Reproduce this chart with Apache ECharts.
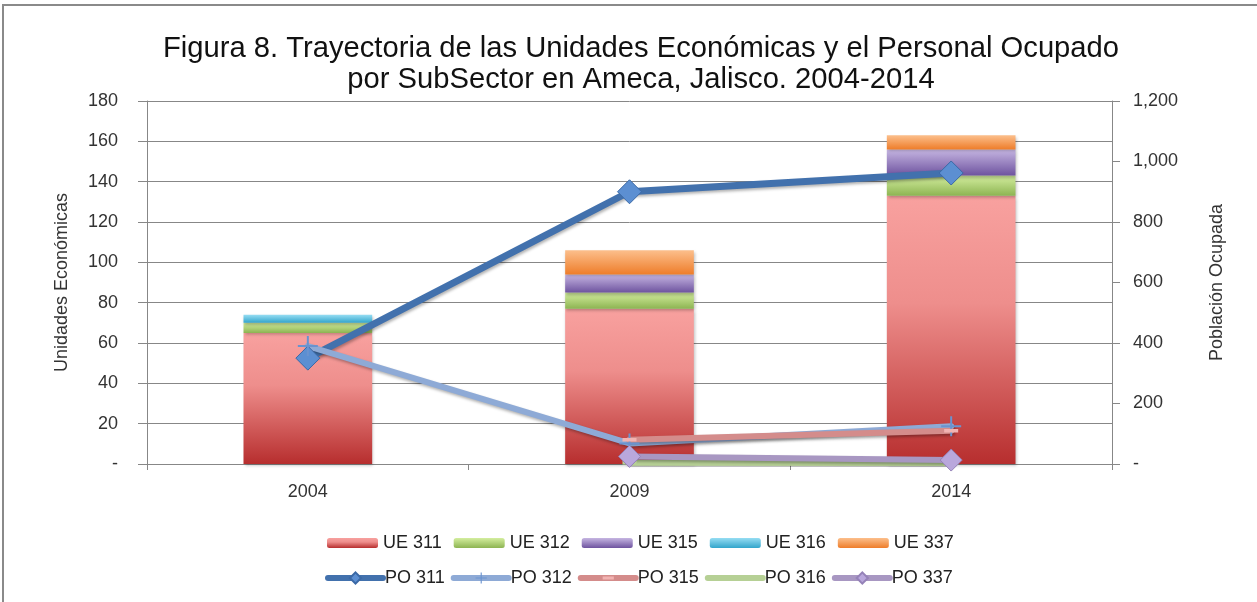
<!DOCTYPE html>
<html>
<head>
<meta charset="utf-8">
<script src="https://cdn.jsdelivr.net/npm/echarts@6/dist/echarts.min.js"></script>
<style>
html,body{margin:0;padding:0;background:#fff;}
#c{width:1257px;height:602px;}
</style>
</head>
<body>
<div id="c"></div>
<script>
var years = ['2004', '2009', '2014'];
var ue311 = [65, 77, 133];
var ue312 = [5, 8, 10];
var ue315 = [0, 9, 13];
var ue316 = [4, 0, 0];
var ue337 = [0, 12, 7];
var po311 = [350, 900, 962];
var po312 = [390, 68, 125];
var po315 = [null, 80, 110];
var po316 = [null, 4, 3];
var po337 = [null, 25, 13];
var leftTicks = {min: 0, max: 180, interval: 20};
var rightTicks = {min: 0, max: 1200, interval: 200};

var chart = echarts.init(document.getElementById('c'));
var G = echarts.graphic.LinearGradient;
function grad(a, b, c) {
  var stops = c ? [{offset:0,color:a},{offset:0.4,color:b},{offset:1,color:c}] : [{offset:0,color:a},{offset:1,color:b}];
  return new G(0, 0, 0, 1, stops);
}
var FONT = 'Liberation Sans, Arial, sans-serif';
var barShadow = {shadowBlur: 3, shadowOffsetX: 1, shadowOffsetY: 2, shadowColor: 'rgba(0,0,0,0.25)'};
function bar(name, data, color) {
  return {name: name, type: 'bar', stack: 'ue', data: data, barWidth: '40%',
    itemStyle: Object.assign({color: color}, barShadow)};
}
var crossPath = 'path://M9,0 H11 V9 H20 V11 H11 V20 H9 V11 H0 V9 H9 Z';
var dashPath = 'path://M0,0 L0.05,0 L0,0.05 Z M0,7.5 H20 V12.5 H0 Z M20,20 L19.95,20 L20,19.95 Z';
var lineShadow = {shadowBlur: 3, shadowOffsetX: 1, shadowOffsetY: 2, shadowColor: 'rgba(0,0,0,0.3)'};
function line(name, data, color, width, symbol, size, symColor, border) {
  return {name: name, type: 'line', yAxisIndex: 1, data: data, connectNulls: false,
    symbol: symbol, symbolSize: size, showAllSymbol: true,
    lineStyle: Object.assign({color: color, width: width, cap: 'round'}, lineShadow),
    itemStyle: {color: symColor, borderColor: border || symColor, borderWidth: border ? 1 : 0},
    emphasis: {disabled: true}, z: 3};
}

chart.setOption({
  animation: false,
  backgroundColor: '#ffffff',
  textStyle: {fontFamily: FONT},
  title: {
    text: 'Figura 8. Trayectoria de las Unidades Económicas y el Personal Ocupado\npor SubSector en Ameca, Jalisco. 2004-2014',
    left: 636, top: 28, textAlign: 'center',
    textStyle: {fontFamily: FONT, fontSize: 29.2, fontWeight: 'normal', color: '#111', lineHeight: 31}
  },
  graphic: [{type: 'rect', shape: {x: 3, y: 5, width: 1270, height: 620},
    style: {fill: 'none', stroke: '#8a8a8a', lineWidth: 2}, silent: true}],
  grid: {left: 147, right: 145, top: 101, bottom: 138},
  legend: [{
    data: ['UE 311', 'UE 312', 'UE 315', 'UE 316', 'UE 337'],
    left: 327, top: 534, padding: 0, itemWidth: 51, itemHeight: 10, itemGap: 12,
    textStyle: {fontFamily: FONT, fontSize: 18, color: '#222'}
  }, {
    data: ['PO 311', 'PO 312', 'PO 315', 'PO 316', 'PO 337'],
    left: 325, top: 569, padding: 0, itemWidth: 55, itemHeight: 14, itemGap: 6,
    lineStyle: {width: 6, cap: 'round', shadowBlur: 0, shadowOffsetX: 0, shadowOffsetY: 0},
    textStyle: {fontFamily: FONT, fontSize: 18, color: '#222', padding: [0, 0, 0, -3]}
  }],
  xAxis: {
    type: 'category', data: years,
    axisLine: {lineStyle: {color: '#878787', width: 1}},
    axisTick: {show: true, length: 6, lineStyle: {color: '#878787'}},
    axisLabel: {margin: 19, fontSize: 18, color: '#333', fontFamily: FONT}
  },
  yAxis: [{
    type: 'value', min: leftTicks.min, max: leftTicks.max, interval: leftTicks.interval,
    name: 'Unidades Económicas', nameLocation: 'middle', nameGap: 76,
    nameTextStyle: {fontSize: 18, color: '#333', fontFamily: FONT},
    axisLine: {show: true, lineStyle: {color: '#878787'}},
    axisTick: {show: true, length: 9, lineStyle: {color: '#878787'}},
    splitLine: {lineStyle: {color: '#878787', width: 1}},
    axisLabel: {margin: 29, fontSize: 18, color: '#333', fontFamily: FONT,
      formatter: function (v) { return v === 0 ? '-' : String(v); }}
  }, {
    type: 'value', min: rightTicks.min, max: rightTicks.max, interval: rightTicks.interval,
    name: 'Población Ocupada', nameLocation: 'middle', nameGap: 96,
    nameTextStyle: {fontSize: 18, color: '#333', fontFamily: FONT},
    axisLine: {show: true, lineStyle: {color: '#878787'}},
    axisTick: {show: true, length: 8, lineStyle: {color: '#878787'}},
    splitLine: {show: false},
    axisLabel: {margin: 21, fontSize: 18, color: '#333', fontFamily: FONT,
      formatter: function (v) { return v === 0 ? '-' : v.toLocaleString('en-US'); }}
  }],
  series: [
    bar('UE 311', ue311, grad('#f8a19f', '#ee8e8c', '#b72e2e')),
    bar('UE 312', ue312, grad('#d4ee9f', '#8db452')),
    bar('UE 315', ue315, grad('#c6b6e2', '#6e539f')),
    bar('UE 316', ue316, grad('#96ddf3', '#32a5cb')),
    bar('UE 337', ue337, grad('#fcbf8c', '#ee7d2a')),
    line('PO 311', po311, '#4271ad', 7, 'diamond', 24, '#5c8fd2', '#3b69a6'),
    line('PO 312', po312, '#8eaad6', 6, crossPath, 20, '#6a93cf'),
    line('PO 315', po315, '#d48c8b', 6, dashPath, 14, '#f2b3b2'),
    line('PO 316', po316, '#b6d095', 6, dashPath, 14, '#b6d095'),
    line('PO 337', po337, '#a897c2', 6, 'diamond', 22, '#b9a7dc', '#9582b8')
  ]
});
</script>
</body>
</html>
